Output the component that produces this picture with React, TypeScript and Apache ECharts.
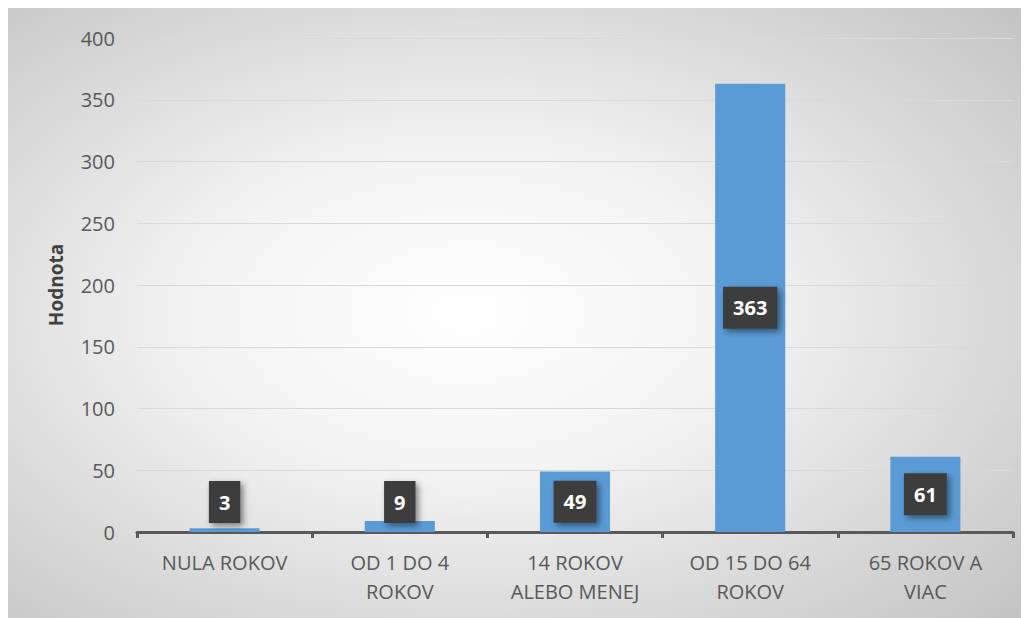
import React, { useEffect, useRef } from "react";
import * as echarts from "echarts";

const categories = ["NULA ROKOV", "OD 1 DO 4\nROKOV", "14 ROKOV\nALEBO MENEJ", "OD 15 DO 64\nROKOV", "65 ROKOV A\nVIAC"];
const values = [3, 9, 49, 363, 61];
const yAxisName = "Hodnota";
const yMin = 0;
const yMax = 400;
const yInterval = 50;

export default function App() {
  const ref = useRef<HTMLDivElement>(null);
  useEffect(() => {
    if (!ref.current) return;
    const chart = echarts.init(ref.current, undefined, { renderer: "svg" });
    const labelBase = {
      show: true,
      color: "#ffffff",
      fontFamily: "Open Sans",
      fontWeight: "bold",
      fontSize: 20,
      lineHeight: 26,
      backgroundColor: "#3d3d3d",
      padding: [8, 10, 8, 10],
      shadowColor: "rgba(0,0,0,0.45)",
      shadowBlur: 6,
      shadowOffsetX: 3,
      shadowOffsetY: 3,
    };
    const data = values.map((v) => {
      const small = v < 30;
      return {
        value: v,
        label: small
          ? { ...labelBase, position: "insideBottom", distance: 9 }
          : { ...labelBase, position: "inside" },
      };
    });
    chart.setOption({
      animation: false,
      backgroundColor: {
        type: "radial",
        x: 0.45,
        y: 0.5,
        r: 0.75,
        colorStops: [
          { offset: 0, color: "#ffffff" },
          { offset: 0.35, color: "#f3f3f3" },
          { offset: 1, color: "#c2c2c2" },
        ],
      },
      textStyle: { fontFamily: "Open Sans" },
      grid: { left: 129, right: 16, top: 30, bottom: 86, containLabel: false },
      xAxis: {
        type: "category",
        data: categories,
        axisLine: { show: true, lineStyle: { color: "#595959", width: 3 } },
        axisTick: { show: true, length: 6, lineStyle: { color: "#595959", width: 3 } },
        axisLabel: {
          color: "#595959",
          fontSize: 20,
          lineHeight: 29,
          margin: 16,
          fontFamily: "Open Sans",
        },
      },
      yAxis: {
        type: "value",
        min: yMin,
        max: yMax,
        interval: yInterval,
        name: yAxisName,
        nameLocation: "middle",
        nameGap: 72,
        nameTextStyle: { color: "#404040", fontSize: 19, fontWeight: "bold", fontFamily: "Open Sans" },
        axisLine: { show: false },
        axisTick: { show: false },
        axisLabel: { color: "#595959", fontSize: 20, margin: 22, fontFamily: "Open Sans" },
        splitLine: { lineStyle: { color: "#d9d9d9", width: 1 } },
      },
      series: [
        {
          type: "bar",
          data,
          barWidth: "40%",
          itemStyle: { color: "#5b9bd5" },
        },
      ],
    });
    return () => chart.dispose();
  }, []);
  return <div ref={ref} style={{ width: 1021, height: 610 }} />;
}
